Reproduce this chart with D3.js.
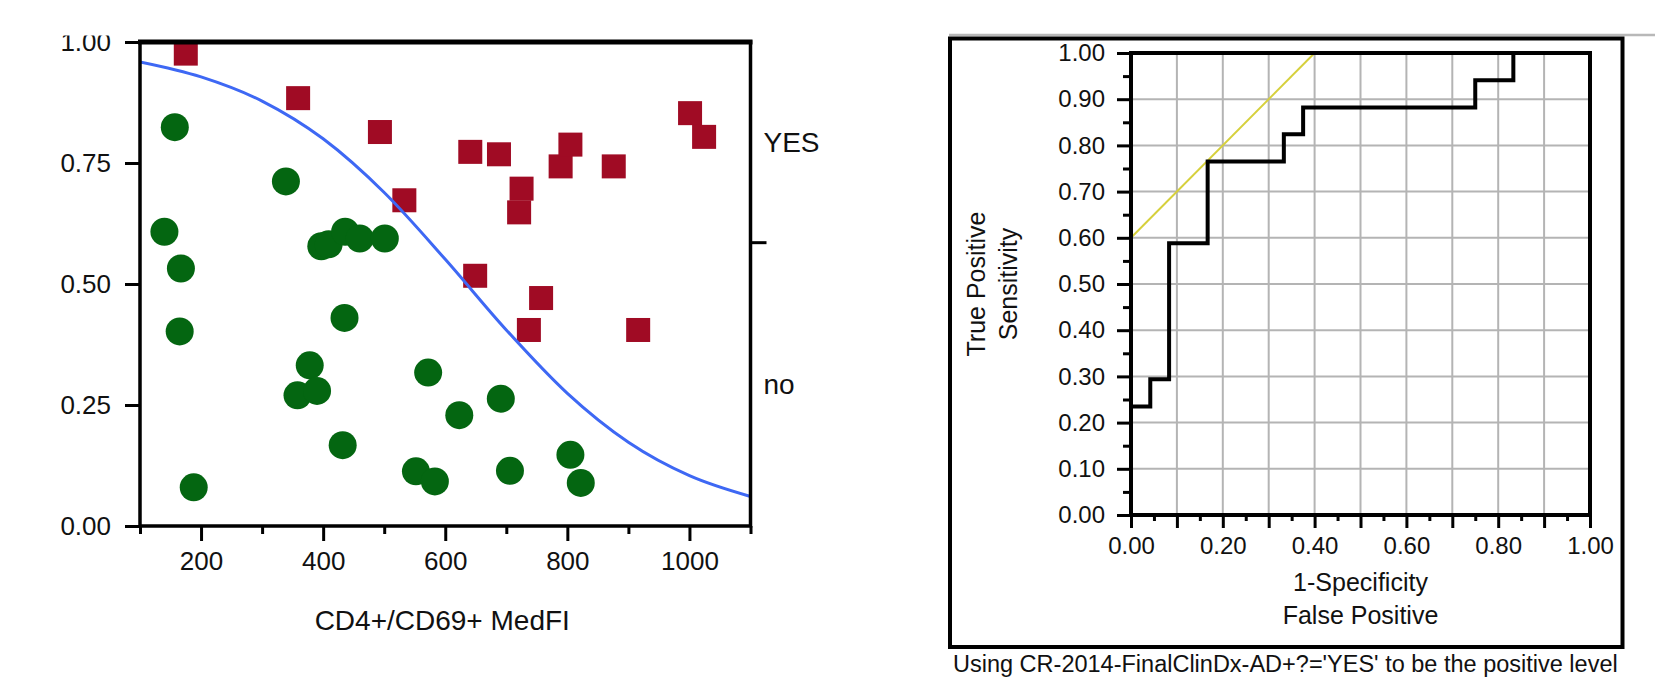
<!DOCTYPE html>
<html>
<head>
<meta charset="utf-8">
<script src="https://cdn.jsdelivr.net/npm/d3@7"></script>
<style>
  body { margin: 0; background: #fff; }
  svg text { font-family: "Liberation Sans", Arial, sans-serif; fill: #111; }
</style>
</head>
<body>
<svg id="chart"></svg>
<script>
// =====================================================
// Data
// =====================================================
/** "no" group (green circles) */
const noX = [157, 140, 167, 165, 188, 339, 397, 409, 436, 460, 501, 435,
             378, 358, 390, 432, 572, 552, 583, 623, 691, 706, 805, 822];
const noY = [0.824, 0.608, 0.532, 0.402, 0.080, 0.712, 0.578, 0.582, 0.608, 0.594, 0.594, 0.430,
             0.332, 0.270, 0.279, 0.167, 0.317, 0.113, 0.092, 0.229, 0.263, 0.114, 0.147, 0.089];
/** "YES" group (red squares) */
const yesX = [175, 359, 493, 533, 641, 688, 725, 721, 789, 805, 876, 1001, 1024, 649, 757, 737, 916];
const yesY = [0.976, 0.884, 0.814, 0.673, 0.773, 0.768, 0.697, 0.648, 0.743, 0.788, 0.743,
              0.853, 0.804, 0.517, 0.471, 0.405, 0.405];
/** Logistic fit curve */
const fitX = [100, 200, 300, 400, 500, 600, 700, 800, 900, 1000, 1100];
const fitY = [0.959, 0.928, 0.878, 0.800, 0.689, 0.551, 0.405, 0.274, 0.173, 0.104, 0.061];

const xTicksLeft      = [200, 400, 600, 800, 1000];
const xMinorTicksLeft = [100, 300, 500, 700, 900, 1100];
const yTicksLeft      = [0, 0.25, 0.5, 0.75, 1];
const levelLabels     = ["YES", "no"];

/** ROC step curve */
const rocFpr = [0, 0, 0.042, 0.083, 0.167, 0.333, 0.375, 0.750, 0.833, 1];
const rocTpr = [0, 0.235, 0.294, 0.588, 0.765, 0.824, 0.882, 0.941, 1, 1];
/** Tangent line */
const tangentFpr = [0, 0.40];
const tangentTpr = [0.60, 1.00];

const rocTicks      = [0, 0.1, 0.2, 0.3, 0.4, 0.5, 0.6, 0.7, 0.8, 0.9, 1];
const rocMinorTicks = [0.05, 0.15, 0.25, 0.35, 0.45, 0.55, 0.65, 0.75, 0.85, 0.95];
const rocGrid       = [0.1, 0.2, 0.3, 0.4, 0.5, 0.6, 0.7, 0.8, 0.9];
const rocXLabels    = [0, 0.2, 0.4, 0.6, 0.8, 1];

const footnote = "Using CR-2014-FinalClinDx-AD+?='YES' to be the positive level";

// =====================================================
// Setup
// =====================================================
const W = 1655, H = 679;
const svg = d3.select("#chart").attr("width", W).attr("height", H);
svg.append("rect").attr("width", W).attr("height", H).attr("fill", "#fff");

const styleAxis = (g, fontSize, strokeW) => {
  g.select(".domain").remove();
  g.selectAll(".tick line").attr("stroke", "#000").attr("stroke-width", strokeW);
  g.selectAll(".tick text")
    .attr("font-size", fontSize)
    .attr("font-family", '"Liberation Sans", Arial, sans-serif')
    .attr("fill", "#111");
};

// =====================================================
// Left: logistic fit
// =====================================================
const xL = d3.scaleLinear().domain([100, 1100]).range([140, 750.5]);
const yL = d3.scaleLinear().domain([0, 1]).range([526, 42]);

const left = svg.append("g");

left.append("clipPath").attr("id", "clipL")
  .append("rect")
  .attr("x", xL.range()[0]).attr("y", yL.range()[1])
  .attr("width", xL.range()[1] - xL.range()[0])
  .attr("height", yL.range()[0] - yL.range()[1]);

// ----------
// Points
// =================
left.append("g")
  .selectAll("circle")
  .data(noX.map((x, i) => ({ x, y: noY[i] })))
  .enter()
  .append("circle")
  .attr("cx", d => xL(d.x))
  .attr("cy", d => yL(d.y))
  .attr("r", 14)
  .attr("fill", "#046611");

const sq = 24;
left.append("g")
  .selectAll("rect")
  .data(yesX.map((x, i) => ({ x, y: yesY[i] })))
  .enter()
  .append("rect")
  .attr("x", d => xL(d.x) - sq / 2)
  .attr("y", d => yL(d.y) - sq / 2)
  .attr("width", sq)
  .attr("height", sq)
  .attr("fill", "#a00b24");

// ----------
// Fit curve
// =================
const fitLine = d3.line()
  .x((d, i) => xL(fitX[i]))
  .y(d => yL(d))
  .curve(d3.curveMonotoneX);
left.append("path")
  .datum(fitY)
  .attr("clip-path", "url(#clipL)")
  .attr("fill", "none")
  .attr("stroke", "#3e68f4")
  .attr("stroke-width", 3)
  .attr("d", fitLine);

// ----------
// Axes
// =================
left.append("g")
  .attr("transform", `translate(0, ${yL(0)})`)
  .call(d3.axisBottom(xL).tickValues(xTicksLeft).tickSize(15).tickPadding(11).tickFormat(d3.format("d")))
  .call(g => styleAxis(g, 26, 3));
left.append("g")
  .attr("transform", `translate(0, ${yL(0)})`)
  .call(d3.axisBottom(xL).tickValues(xMinorTicksLeft).tickSize(8).tickFormat(""))
  .call(g => styleAxis(g, 26, 3));
left.append("g")
  .attr("transform", `translate(${xL(100)}, 0)`)
  .call(d3.axisLeft(yL).tickValues(yTicksLeft).tickSize(15).tickPadding(14).tickFormat(d3.format(".2f")))
  .call(g => styleAxis(g, 26, 3));

// Right categorical axis (levels split at the "no" proportion)
const pNo = noX.length / (noX.length + yesX.length);
left.append("line")
  .attr("x1", xL(1100)).attr("x2", xL(1100) + 16)
  .attr("y1", yL(pNo)).attr("y2", yL(pNo))
  .attr("stroke", "#000").attr("stroke-width", 3);
left.selectAll(".level")
  .data(levelLabels)
  .enter()
  .append("text")
  .attr("class", "level")
  .attr("x", xL(1100) + 13)
  .attr("y", (d, i) => i === 0 ? yL((pNo + 1) / 2) : yL(pNo / 2))
  .attr("dy", "0.35em")
  .attr("font-size", 28)
  .text(d => d);

// Frame
left.append("rect")
  .attr("x", xL(100)).attr("y", yL(1))
  .attr("width", xL(1100) - xL(100)).attr("height", yL(0) - yL(1))
  .attr("fill", "none").attr("stroke", "#000").attr("stroke-width", 3.5);
left.append("line")
  .attr("x1", xL(100) - 2).attr("x2", xL(1100) + 2)
  .attr("y1", yL(1)).attr("y2", yL(1))
  .attr("stroke", "#000").attr("stroke-width", 5);

// Axis title
left.append("text")
  .attr("x", (xL(100) + xL(1100)) / 2 - 3)
  .attr("y", 630)
  .attr("text-anchor", "middle")
  .attr("font-size", 28)
  .text("CD4+/CD69+ MedFI");

// The screenshot crops the top of the "1.00" label
left.append("rect").attr("x", 0).attr("y", 0).attr("width", 124).attr("height", 35.5).attr("fill", "#fff");

// =====================================================
// Right: ROC curve
// =====================================================
const xR = d3.scaleLinear().domain([0, 1]).range([1131, 1590]);
const yR = d3.scaleLinear().domain([0, 1]).range([515, 53]);

const right = svg.append("g");

// Outer report frame
right.append("line")
  .attr("x1", 949).attr("x2", W).attr("y1", 35).attr("y2", 35)
  .attr("stroke", "#b8b8b8").attr("stroke-width", 2.5);
right.append("rect")
  .attr("x", 950).attr("y", 38.5).attr("width", 672.5).attr("height", 608.5)
  .attr("fill", "none").attr("stroke", "#000").attr("stroke-width", 4);

// Grid
right.append("g")
  .selectAll("line.gx")
  .data(rocGrid)
  .enter()
  .append("line")
  .attr("x1", d => xR(d)).attr("x2", d => xR(d))
  .attr("y1", yR(0)).attr("y2", yR(1))
  .attr("stroke", "#b4b4b4").attr("stroke-width", 2);
right.append("g")
  .selectAll("line.gy")
  .data(rocGrid)
  .enter()
  .append("line")
  .attr("y1", d => yR(d)).attr("y2", d => yR(d))
  .attr("x1", xR(0)).attr("x2", xR(1))
  .attr("stroke", "#b4b4b4").attr("stroke-width", 2);

// Tangent line
right.append("line")
  .attr("x1", xR(tangentFpr[0])).attr("y1", yR(tangentTpr[0]))
  .attr("x2", xR(tangentFpr[1])).attr("y2", yR(tangentTpr[1]))
  .attr("stroke", "#d6d03c").attr("stroke-width", 2);

// ROC steps
const rocLine = d3.line()
  .x((d, i) => xR(rocFpr[i]))
  .y(d => yR(d))
  .curve(d3.curveStepAfter);
right.append("path")
  .datum(rocTpr)
  .attr("fill", "none")
  .attr("stroke", "#000")
  .attr("stroke-width", 4)
  .attr("stroke-linejoin", "miter")
  .attr("d", rocLine);

// Axes
right.append("g")
  .attr("transform", `translate(0, ${yR(0)})`)
  .call(d3.axisBottom(xR).tickValues(rocTicks).tickSize(13).tickPadding(9)
    .tickFormat(d => rocXLabels.some(v => Math.abs(v - d) < 1e-9) ? d3.format(".2f")(d) : ""))
  .call(g => styleAxis(g, 24, 3));
right.append("g")
  .attr("transform", `translate(0, ${yR(0)})`)
  .call(d3.axisBottom(xR).tickValues(rocMinorTicks).tickSize(6).tickFormat(""))
  .call(g => styleAxis(g, 24, 3));
right.append("g")
  .attr("transform", `translate(${xR(0)}, 0)`)
  .call(d3.axisLeft(yR).tickValues(rocTicks).tickSize(14).tickPadding(12).tickFormat(d3.format(".2f")))
  .call(g => styleAxis(g, 24, 3));
right.append("g")
  .attr("transform", `translate(${xR(0)}, 0)`)
  .call(d3.axisLeft(yR).tickValues(rocMinorTicks).tickSize(8).tickFormat(""))
  .call(g => styleAxis(g, 24, 3));

// Plot frame
right.append("rect")
  .attr("x", xR(0)).attr("y", yR(1))
  .attr("width", xR(1) - xR(0)).attr("height", yR(0) - yR(1))
  .attr("fill", "none").attr("stroke", "#000").attr("stroke-width", 4);

// Titles
const xMid = (xR(0) + xR(1)) / 2;
right.append("text").attr("x", xMid).attr("y", 591)
  .attr("text-anchor", "middle").attr("font-size", 25).text("1-Specificity");
right.append("text").attr("x", xMid).attr("y", 623.5)
  .attr("text-anchor", "middle").attr("font-size", 25).text("False Positive");

const yMid = (yR(0) + yR(1)) / 2;
right.append("text")
  .attr("transform", `translate(985, ${yMid}) rotate(-90)`)
  .attr("text-anchor", "middle").attr("font-size", 25).text("True Positive");
right.append("text")
  .attr("transform", `translate(1017, ${yMid}) rotate(-90)`)
  .attr("text-anchor", "middle").attr("font-size", 25).text("Sensitivity");

// Footnote (shrunk a little so the whole sentence stays inside the page)
right.append("text")
  .attr("x", 953).attr("y", 672)
  .attr("font-size", 23.5)
  .text(footnote);
</script>
</body>
</html>
